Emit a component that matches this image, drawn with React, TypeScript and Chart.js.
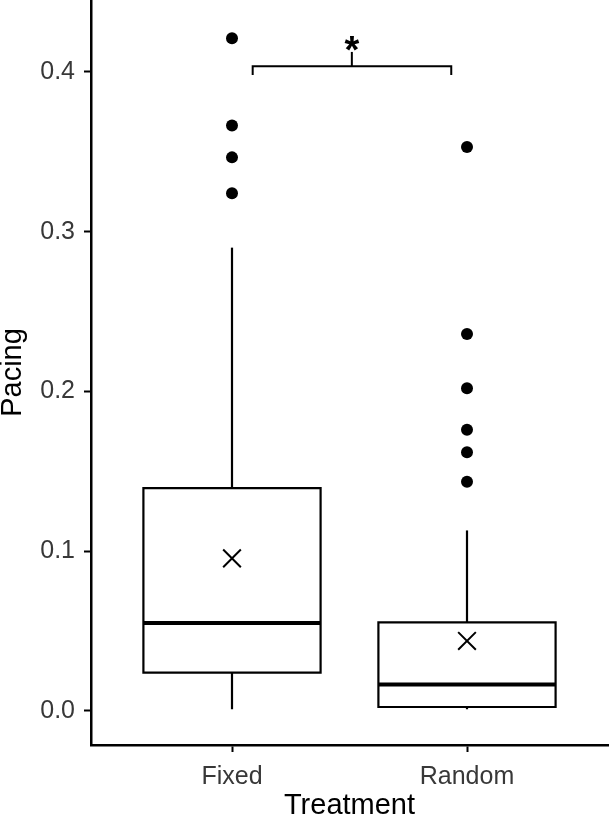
import React, { useEffect, useRef } from 'react';
import { Chart, registerables } from 'chart.js';

Chart.register(...registerables);

// ---- data ----
const categories = ['Fixed', 'Random'];
const positions = [1, 2];
const q1 = [0.024, 0.0025];
const medians = [0.055, 0.0165];
const q3 = [0.1395, 0.0555];
const whiskerLow = [0.001, 0.001];
const whiskerHigh = [0.29, 0.113];
const means = [0.0955, 0.0438];
const outliersFixed = [0.421, 0.3665, 0.3465, 0.324];
const outliersRandom = [0.353, 0.236, 0.202, 0.176, 0.162, 0.1435];
const outliers = [outliersFixed, outliersRandom];
const yTicks = [0, 0.1, 0.2, 0.3, 0.4];
const sigLabel = '*';
const bracketX = [1.088, 1.933];
const bracketY = 0.4035;
const bracketDrop = 0.398;
const bracketMid = 1.51;
const bracketTipY = 0.4125;
const sigY = 0.4085;

const HALF = 0.377;
const FONT = '"Liberation Sans", Arial, sans-serif';

function lineDs(points: { x: number; y: number }[], width = 2) {
  return {
    type: 'scatter' as const,
    data: points,
    showLine: true,
    borderColor: '#000',
    backgroundColor: '#000',
    borderWidth: width,
    pointRadius: 0,
    pointHoverRadius: 0,
    tension: 0,
    fill: false,
    borderJoinStyle: 'miter' as const,
    borderCapStyle: 'butt' as const,
  };
}

function buildDatasets() {
  const ds: any[] = [];
  positions.forEach((c, i) => {
    const l = c - HALF;
    const r = c + HALF;
    ds.push({
      ...lineDs([
        { x: l, y: q1[i] },
        { x: l, y: q3[i] },
        { x: r, y: q3[i] },
        { x: r, y: q1[i] },
        { x: l, y: q1[i] },
      ], 2.2),
      borderCapStyle: 'square',
    });
    ds.push(lineDs([{ x: l, y: medians[i] }, { x: r, y: medians[i] }], 4));
    ds.push(lineDs([{ x: c, y: q3[i] }, { x: c, y: whiskerHigh[i] }], 2.2));
    ds.push(lineDs([{ x: c, y: q1[i] }, { x: c, y: whiskerLow[i] }], 2.2));
    ds.push({
      type: 'scatter',
      data: outliers[i].map((v) => ({ x: c, y: v })),
      pointRadius: 6,
      pointHoverRadius: 6,
      backgroundColor: '#000',
      borderWidth: 0,
    });
    ds.push({
      type: 'scatter',
      data: [{ x: c, y: means[i] }],
      pointStyle: 'crossRot',
      pointRadius: 12.5,
      pointHoverRadius: 12.5,
      borderColor: '#000',
      borderWidth: 2,
    });
  });
  ds.push(
    lineDs([
      { x: bracketX[0], y: bracketDrop },
      { x: bracketX[0], y: bracketY },
      { x: bracketX[1], y: bracketY },
      { x: bracketX[1], y: bracketDrop },
    ], 2)
  );
  ds.push(lineDs([{ x: bracketMid, y: bracketY }, { x: bracketMid, y: bracketTipY }], 2));
  return ds;
}

const sigPlugin = {
  id: 'sigText',
  afterDatasetsDraw(chart: any) {
    const { ctx, scales } = chart;
    ctx.save();
    ctx.font = `bold 38px ${FONT}`;
    ctx.fillStyle = '#000';
    ctx.textAlign = 'center';
    ctx.textBaseline = 'alphabetic';
    ctx.fillText(sigLabel, scales.x.getPixelForValue(bracketMid), scales.y.getPixelForValue(sigY) + 5);
    ctx.restore();
  },
};

export default function App() {
  const ref = useRef<HTMLCanvasElement>(null);
  useEffect(() => {
    if (!ref.current) return;
    const chart = new Chart(ref.current, {
      type: 'scatter',
      data: { datasets: buildDatasets() },
      plugins: [sigPlugin],
      options: {
        responsive: false,
        animation: false,
        layout: { autoPadding: false, padding: { left: 0, right: 3, top: 0, bottom: 0 } },
        plugins: { legend: { display: false }, tooltip: { enabled: false } },
        scales: {
          x: {
            type: 'linear',
            min: 0.4,
            max: 2.6,
            afterBuildTicks: (s: any) => {
              s.ticks = positions.map((v) => ({ value: v }));
            },
            afterFit: (s: any) => {
              s.height = 77;
              s.paddingLeft = 0;
              s.paddingRight = 0;
            },
            ticks: {
              callback: (v: any) => categories[positions.indexOf(Number(v))] ?? '',
              color: '#383838',
              font: { family: FONT, size: 25 },
              padding: 10,
              maxRotation: 0,
              autoSkip: false,
            },
            grid: {
              display: true,
              drawOnChartArea: false,
              drawTicks: true,
              tickLength: 7,
              tickColor: '#000',
              tickWidth: 2,
            },
            border: { display: true, color: '#000', width: 2.5 },
            title: {
              display: true,
              text: 'Treatment',
              color: '#000',
              font: { family: FONT, size: 29, lineHeight: 1 },
              padding: { top: 0, bottom: 1.5 },
            },
          },
          y: {
            type: 'linear',
            min: -0.0213,
            max: 0.445,
            afterBuildTicks: (s: any) => {
              s.ticks = yTicks.map((v) => ({ value: v }));
            },
            afterFit: (s: any) => {
              s.width = 91;
              s.paddingTop = 0;
              s.paddingBottom = 0;
            },
            ticks: {
              callback: (v: any) => Number(v).toFixed(1),
              color: '#383838',
              font: { family: FONT, size: 25 },
              padding: 9,
            },
            grid: {
              display: true,
              drawOnChartArea: false,
              drawTicks: true,
              tickLength: 7,
              tickColor: '#000',
              tickWidth: 2,
            },
            border: { display: true, color: '#000', width: 2.5 },
            title: {
              display: true,
              text: 'Pacing',
              color: '#000',
              font: { family: FONT, size: 29, lineHeight: 0.9 },
              padding: { top: 0, bottom: 0 },
            },
          },
        },
      },
    });
    return () => chart.destroy();
  }, []);
  return (
    <div style={{ position: 'fixed', left: 0, top: 0, width: 611, height: 822, background: '#fff' }}>
      <canvas ref={ref} width={611} height={822} style={{ width: 611, height: 822, display: 'block' }} />
    </div>
  );
}
